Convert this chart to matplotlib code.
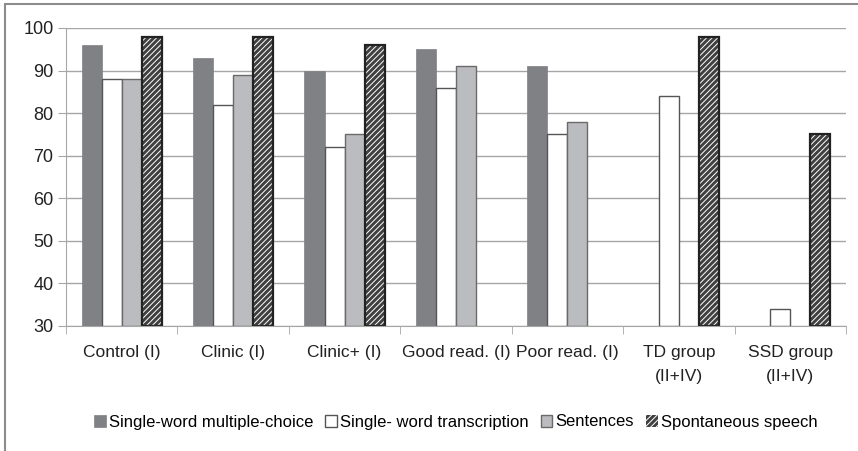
import numpy as np
import matplotlib
matplotlib.use("Agg")
from matplotlib import pyplot as plt
from matplotlib.patches import Rectangle

plt.rcParams['font.family'] = ['Liberation Sans Narrow', 'Liberation Sans', 'DejaVu Sans']
plt.rcParams['hatch.linewidth'] = 0.7

# data (nan = no bar)
groups = ["Control (I)", "Clinic (I)", "Clinic+ (I)", "Good read. (I)", "Poor read. (I)",
          "TD group\n(II+IV)", "SSD group\n(II+IV)"]
multiple_choice = [96, 93, 90, 95, 91, np.nan, np.nan]
transcription = [88, 82, 72, 86, 75, 84, 34]
sentences = [88, 89, 75, 91, 78, np.nan, np.nan]
spontaneous = [98, 98, 96, np.nan, np.nan, 98, 75]
series_names = ["Single-word multiple-choice", "Single- word transcription",
                "Sentences", "Spontaneous speech"]

fig = plt.figure(figsize=(8.58, 4.51), dpi=100)
ax = fig.add_axes([66/858, 125/451, 780/858, 298/451])

# outer frame of the chart
fig.patches.append(Rectangle((5/858, -0.1), 2, 1.1 - 4/451, transform=fig.transFigure,
                             fill=False, edgecolor='#8c8c8c', linewidth=1.5))

x = np.arange(len(groups))
w = 0.18
base = 30
offs = [-1.5*w, -0.5*w, 0.5*w, 1.5*w]

def bars(vals, off, **kw):
    v = np.array(vals, dtype=float)
    ok = ~np.isnan(v)
    return ax.bar(x[ok] + off, v[ok] - base, w, bottom=base, **kw)

b1 = bars(multiple_choice, offs[0], color='#808185', edgecolor='#808185', linewidth=0.5,
          label=series_names[0])
b2 = bars(transcription, offs[1], color='white', edgecolor='#555555', linewidth=1.0,
          label=series_names[1])
b3 = bars(sentences, offs[2], color='#bbbcbf', edgecolor='#6a6a6a', linewidth=1.0,
          label=series_names[2])
# hatched bars: dark fill with white diagonal lines, then a dark outline on top
bars(spontaneous, offs[3], color='#404040', edgecolor='white', hatch='//////', linewidth=0)
bars(spontaneous, offs[3], fill=False, edgecolor='#222222', linewidth=1.6)
b4 = Rectangle((0, 0), 1, 1, facecolor='#404040', edgecolor='white', hatch='//////',
               linewidth=0, label=series_names[3])

ax.set_ylim(30, 100)
ax.set_xlim(-0.5, len(groups) - 0.5)
ax.set_yticks(range(30, 101, 10))
ax.yaxis.grid(True, color='#a6a6a6', linewidth=1.0)
ax.set_axisbelow(True)
for s in ['top', 'right']:
    ax.spines[s].set_visible(False)
ax.spines['left'].set_color('#a6a6a6')
ax.spines['bottom'].set_color('#a6a6a6')

ax.set_xticks(x)
ax.set_xticklabels(groups, fontsize=12.5, color='#222222', linespacing=1.75)
ax.set_xticks(np.arange(len(groups) + 1) - 0.5, minor=True)
ax.tick_params(axis='x', which='major', length=0, pad=14)
ax.tick_params(axis='x', which='minor', length=6, color='#a6a6a6')
ax.tick_params(axis='y', length=6, color='#a6a6a6', labelsize=13, labelcolor='#222222', pad=3)

fig.legend(handles=[b1, b2, b3, b4], loc='center', bbox_to_anchor=(456/858, 1 - 422/451),
           ncol=4, frameon=False, fontsize=12, handlelength=0.7, handleheight=0.7,
           handletextpad=0.2, columnspacing=0.7)

fig.savefig("out.png", dpi=100)
